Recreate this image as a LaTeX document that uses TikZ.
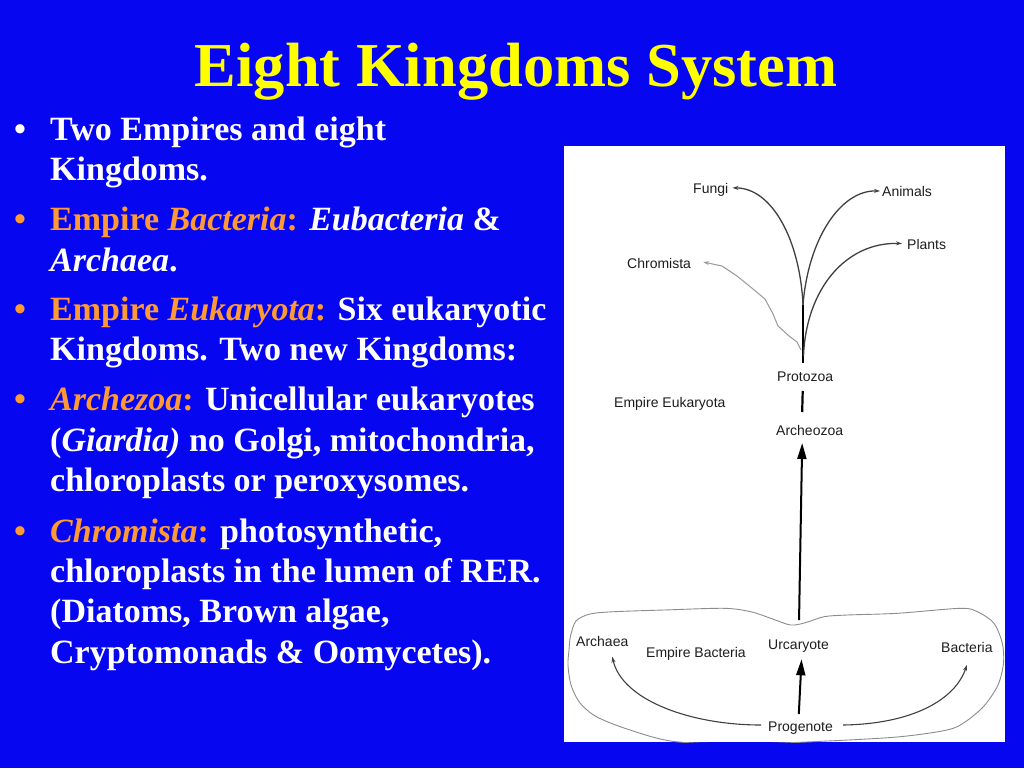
\documentclass[tikz,border=0pt]{standalone}
\usepackage{fontspec}
\setmainfont{Liberation Serif}
\newfontfamily\labfont{Liberation Sans}
\usetikzlibrary{arrows.meta}
\definecolor{bg}{RGB}{6,6,240}
\definecolor{org}{RGB}{255,153,51}
\definecolor{ttl}{RGB}{255,255,0}
\definecolor{ink}{RGB}{30,30,30}
\newcommand\orng[1]{\textcolor{org}{#1}}
\begin{document}
\begin{tikzpicture}[x=1pt,y=-1pt,
  titlestyle/.style={anchor=base, inner sep=0pt, text=ttl, font=\fontsize{62.5}{70}\selectfont\bfseries},
  bodyline/.style={anchor=base west, inner sep=0pt, text=white, font=\fontsize{34}{40}\selectfont\bfseries},
  bul/.style={anchor=base west, inner sep=0pt, font=\fontsize{34}{40}\selectfont\bfseries},
  lab/.style={anchor=base west, inner sep=0pt, text=ink, font=\labfont\fontsize{14}{16}\selectfont},
  branch/.style={draw=ink!85, line width=1.3pt, -{Stealth[length=6pt,width=4pt]}},
  chromline/.style={draw=black!40, line width=1pt, -{Stealth[length=6pt,width=4pt]}},
  smallarrow/.style={draw=ink!85, line width=1.1pt, -{Stealth[length=6pt,width=4pt]}},
  bigarrow/.style={draw=black, line width=2pt, -{Triangle[length=16pt,width=9pt]}},
  thickline/.style={draw=black, line width=2.2pt},
  blob/.style={draw=black!45, line width=0.9pt}
]
\useasboundingbox (0,0) rectangle (1024,768);
\fill[bg] (0,0) rectangle (1024,768);

% title
\node[titlestyle] (title) at (516,86) {Eight Kingdoms System};

% bullets
\node[bul, text=white] (b1) at (14,140) {•};
\node[bul, text=org] (b2) at (14,230) {•};
\node[bul, text=org] (b3) at (14,320) {•};
\node[bul, text=org] (b4) at (14,410) {•};
\node[bul, text=org] (b5) at (14,542) {•};

% body text
\node[bodyline] (l1) at (50,140) {Two Empires and eight};
\node[bodyline] (l2) at (50,180) {Kingdoms.};
\node[bodyline] (l3) at (50,230) {\orng{Empire \textit{Bacteria}:} \textit{Eubacteria} \&};
\node[bodyline] (l4) at (50,271) {\textit{Archaea}.};
\node[bodyline] (l5) at (50,320) {\orng{Empire \textit{Eukaryota}:} Six eukaryotic};
\node[bodyline] (l6) at (50,360) {Kingdoms. Two new Kingdoms:};
\node[bodyline] (l7) at (50,410) {\orng{\textit{Archezoa}:} Unicellular eukaryotes};
\node[bodyline] (l8) at (50,451) {(\textit{Giardia)} no Golgi, mitochondria,};
\node[bodyline] (l9) at (50,491) {chloroplasts or peroxysomes.};
\node[bodyline] (l10) at (50,542) {\orng{\textit{Chromista}:} photosynthetic,};
\node[bodyline] (l11) at (50,582) {chloroplasts in the lumen of RER.};
\node[bodyline] (l12) at (50,622) {(Diatoms, Brown algae,};
\node[bodyline] (l13) at (50,663) {Cryptomonads \& Oomycetes).};

% white panel
\node[fill=white, draw=none, inner sep=0pt, minimum width=441pt, minimum height=596pt, anchor=north west] (panel) at (564,146) {};

% blob (Empire Bacteria outline)
\begin{scope}
\clip (564,146) rectangle (1005,742);
\draw[blob] plot[smooth cycle, tension=0.5] coordinates {
 (570.5,636) (576,621) (590,614) (614,611.7) (664,610) (724,608.3) (750.7,611.7)
 (770.7,618.3) (790.7,625) (806,622.5) (824,616.7) (847.3,615) (897.3,613.3)
 (960.7,608.3) (978,612) (994,623.3) (1002.3,643.3) (1003.5,663) (998,685)
 (984,706) (965,722) (947,730) (897,737) (817,741.5) (745,744) (674,741.5)
 (630,730) (597,717) (580,703) (571,685) (568,665) (569,650)};
\end{scope}

% diagram labels
\node[lab] (fungi) at (693,193) {Fungi};
\node[lab] (animals) at (882,196.5) {Animals};
\node[lab] (plants) at (907,249) {Plants};
\node[lab] (chromista) at (627,268) {Chromista};
\node[lab] (protozoa) at (777,381.5) {Protozoa};
\node[lab] (eukaryota) at (614,407.5) {Empire Eukaryota};
\node[lab] (archeozoa) at (776,435.5) {Archeozoa};
\node[lab] (archaea) at (576,646) {Archaea};
\node[lab] (empbac) at (646,657.5) {Empire Bacteria};
\node[lab] (urcaryote) at (768,649) {Urcaryote};
\node[lab] (bacteria) at (941,652.5) {Bacteria};
\node[lab] (progenote) at (768,731.5) {Progenote};

% junction coordinates
\coordinate (jtop) at (803,305);
\coordinate (jbot) at (803,363);
\coordinate (jplant) at (803.5,356);
\coordinate (jchrom) at (801,350);

% branches
\draw[thickline] (jbot) -- (jtop);
\draw[branch] (jtop) .. controls (800,240) and (772,188) .. ([xshift=4pt,yshift=1.5pt]fungi.east);
\draw[branch] (jtop) .. controls (808,240) and (840,190) .. ([xshift=-2pt,yshift=0.5pt]animals.west);
\draw[branch] (jplant) .. controls (806,290) and (845,242) .. ([xshift=-5pt,yshift=0.5pt]plants.west);
\draw[chromline] (jchrom) -- (797,342) -- (789,336) -- (778,326) -- (773,314) -- (765,299)
  -- (753,289) -- (737,276) -- (722,266) -- ([xshift=12pt,yshift=1pt]chromista.east);

% eukaryota stem
\draw[thickline] ([xshift=-2.5pt,yshift=-9.5pt]protozoa.base) -- ([xshift=-7.5pt,yshift=23.5pt]archeozoa.base);
\draw[bigarrow] ([xshift=0.5pt,yshift=29pt]urcaryote.base) -- ([xshift=-7.5pt,yshift=-7.5pt]archeozoa.base);

% bacteria part
\draw[bigarrow] ([xshift=-1.7pt,yshift=17.5pt]progenote.base) -- ([xshift=3pt,yshift=-10.3pt]urcaryote.base);
\draw[smallarrow] ([xshift=-7pt,yshift=6.5pt]progenote.base west) .. controls (690,725) and (622,700) .. ([xshift=10pt,yshift=-10.7pt]archaea.base);
\draw[smallarrow] ([xshift=10pt,yshift=6.5pt]progenote.base east) .. controls (912,724) and (955,700) .. ([yshift=-12.5pt]bacteria.base);
\end{tikzpicture}
\end{document}
